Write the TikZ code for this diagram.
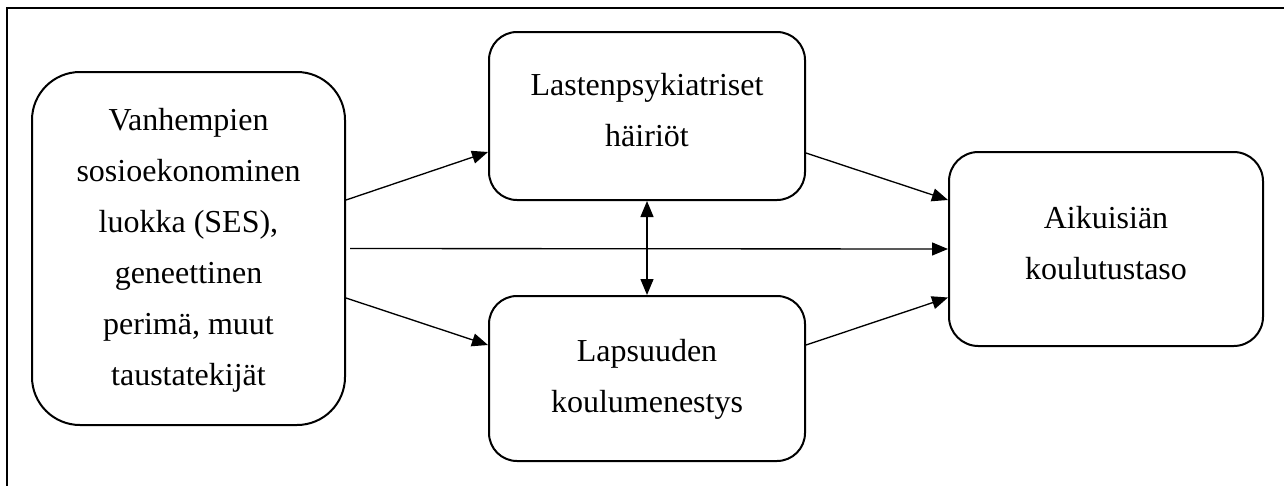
\documentclass[tikz,border=0pt]{standalone}
\usepackage{fontspec}
\setmainfont{Liberation Serif}
\usetikzlibrary{arrows.meta,calc}
\tikzset{
  box/.style={draw=black, line width=1.5pt, align=center, inner sep=0pt,
    font=\fontsize{24pt}{38.25pt}\selectfont, text depth=10pt},
  conn/.style={line width=1pt, -{Triangle[length=12pt,width=9.75pt]}},
  frameline/.style={line width=1.6pt}
}
\begin{document}
\begin{tikzpicture}[x=0.75pt,y=-0.75pt]
\useasboundingbox (0,0) rectangle (1284,486);
\coordinate (fr1) at (1284,8);
\coordinate (fr2) at (7,8);
\coordinate (fr3) at (7,486);
\draw[frameline] (fr1) -- (fr2) -- (fr3);

\node[box, rounded corners=36pt, minimum width=234.75pt, minimum height=264.75pt, text height=214.75pt]
  (L) at (188.5,248.5) {Vanhempien\\sosioekonominen\\luokka (SES),\\geneettinen\\perimä, muut\\taustatekijät};
\node[box, rounded corners=21pt, minimum width=237pt, minimum height=126pt, text height=55pt]
  (T) at (647,116) {Lastenpsykiatriset\\häiriöt};
\node[box, rounded corners=21pt, minimum width=237pt, minimum height=123.75pt, text height=60.25pt]
  (B) at (647,378.5) {Lapsuuden\\koulumenestys};
\node[box, rounded corners=22pt, minimum width=235.5pt, minimum height=145.5pt, text height=55pt]
  (R) at (1106,249) {Aikuisiän\\koulutustaso};

\draw[conn] ($(L.east)+(0,-48.5)$) -- ($(T.west)+(0,36)$);
\draw[conn] ($(L.east)+(4,0)$) -- (R.west);
\draw[conn] ($(L.east)+(0,49.5)$) -- ($(B.west)+(0,-33.5)$);
\draw[conn] ($(T.east)+(0,37)$) -- ($(R.west)+(0,-49)$);
\draw[conn] ($(B.east)+(0,-33.5)$) -- ($(R.west)+(0,48.5)$);
\draw[line width=1pt, {Triangle[length=12pt,width=9.75pt]}-{Triangle[length=12pt,width=9.75pt]}] (T.south) -- (B.north);
\end{tikzpicture}
\end{document}
